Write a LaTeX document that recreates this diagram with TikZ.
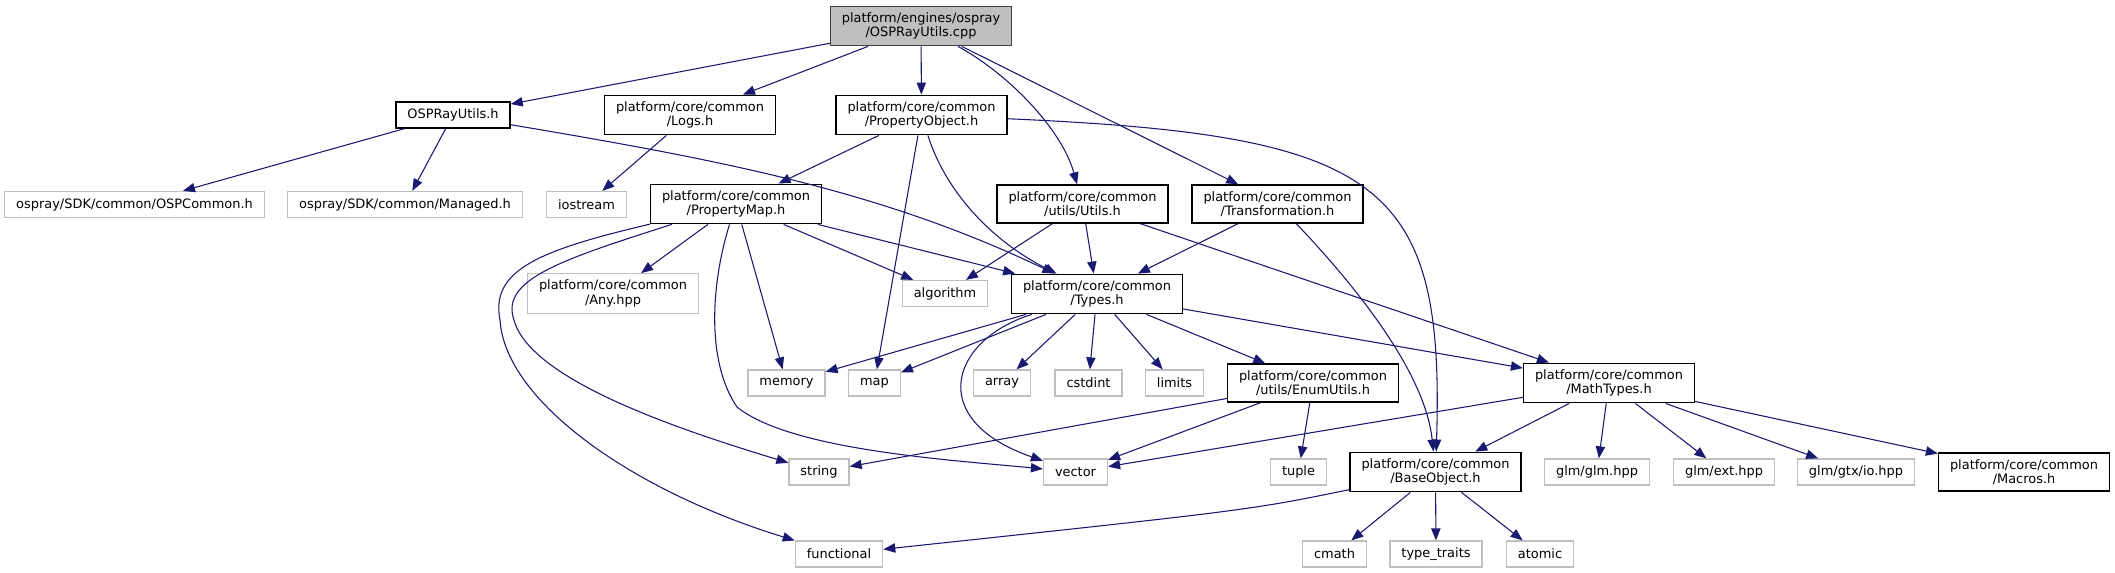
\documentclass[tikz,border=0pt]{standalone}
\usepackage{fontspec}
\setmainfont{DejaVu Sans}
\usetikzlibrary{arrows.meta,calc}
\definecolor{edge}{RGB}{25,25,112}
\definecolor{grey75}{RGB}{191,191,191}
\definecolor{grey25}{RGB}{64,64,64}

\begin{document}
\begin{tikzpicture}[x=0.75pt, y=-0.75pt, font=\fontsize{9.7}{10.7}\selectfont,
  b/.style={draw=black, line width=0.95pt, fill=white, align=center, inner xsep=8.6pt, inner ysep=4.8pt, minimum height=19.5pt},
  g/.style={b, draw=grey75},
  a/.style={draw=edge, line width=0.8pt, -{Triangle[length=9pt, width=7pt]}}]
\useasboundingbox (0,0) rectangle (2115,573);
% top file
\node[b, fill=grey75, draw=grey25] (cpp) at (921,26) {platform/engines/ospray\\/OSPRayUtils.cpp};
% row 1
\node[b] (ospu) at (453,115) {OSPRayUtils.h};
\node[b] (logs) at (690,115) {platform/core/common\\/Logs.h};
\node[b] (pobj) at (921.5,115) {platform/core/common\\/PropertyObject.h};
% row 2
\node[g] (ospc) at (134.5,204.5) {ospray/SDK/common/OSPCommon.h};
\node[g] (mngd) at (405,204.5) {ospray/SDK/common/Managed.h};
\node[g] (ios) at (586.5,204.5) {iostream};
\node[b] (pmap) at (736,204) {platform/core/common\\/PropertyMap.h};
\node[b] (utils) at (1082.5,204) {platform/core/common\\/utils/Utils.h};
\node[b] (trans) at (1277.5,204) {platform/core/common\\/Transformation.h};
% row 3
\node[g] (anyh) at (613,293.5) {platform/core/common\\/Any.hpp};
\node[g] (algo) at (945,293.5) {algorithm};
\node[b] (types) at (1097,294) {platform/core/common\\/Types.h};
% row 4
\node[g] (mem) at (786.5,383) {memory};
\node[g] (map) at (874.5,383) {map};
\node[g] (arr) at (1002,383) {array};
\node[g] (cstd) at (1088.5,383) {cstdint};
\node[g] (lim) at (1174.5,383) {limits};
\node[b] (enum) at (1313,383) {platform/core/common\\/utils/EnumUtils.h};
\node[b] (math) at (1609,383) {platform/core/common\\/MathTypes.h};
% row 5
\node[g] (str) at (819,472) {string};
\node[g] (vec) at (1075.5,472) {vector};
\node[g] (tup) at (1298.5,472) {tuple};
\node[b] (base) at (1435.5,472) {platform/core/common\\/BaseObject.h};
\node[g] (glm) at (1597,472) {glm/glm.hpp};
\node[g] (ext) at (1724,472) {glm/ext.hpp};
\node[g] (io) at (1856,472) {glm/gtx/io.hpp};
\node[b] (macros) at (2024,472) {platform/core/common\\/Macros.h};
% row 6
\node[g] (func) at (839,554) {functional};
\node[g] (cmath) at (1334.5,554) {cmath};
\node[g] (tt) at (1436,554) {type\_traits};
\node[g] (atom) at (1540,554) {atomic};
% includes
\foreach \x/\y in {cpp/ospu,cpp/logs,cpp/pobj,cpp/trans,ospu/ospc,ospu/mngd,logs/ios,
  pobj/pmap,pobj/map,pmap/anyh,pmap/algo,pmap/types,pmap/mem,utils/algo,utils/types,utils/math,
  trans/types,types/mem,types/map,types/arr,types/cstd,types/lim,types/enum,types/math,
  enum/str,enum/vec,enum/tup,math/vec,math/base,math/glm,math/ext,math/io,math/macros,
  base/cmath,base/tt,base/atom} {\draw[a] (\x) -- (\y);}
\draw[a] (cpp) .. controls (1010,75) and (1062,130) .. (utils);
\draw[a] (ospu) .. controls (720,160) and (880,190) .. (types);
\draw[a] (pobj) .. controls (945,190) and (990,240) .. (types);
\draw[a] (pobj) .. controls (1380,135) and (1445,180) .. (base);
\draw[a] (pmap) .. controls (712,280) and (705,360) .. (737,407) .. controls (790,450) and (950,460) .. (vec);
\draw[a] (pmap) .. controls (560,260) and (500,280) .. (514,320) .. controls (530,380) and (680,430) .. (str);
\draw[a] (pmap) .. controls (540,250) and (490,270) .. (500,320) .. controls (505,400) and (630,490) .. (func);
\draw[a] (types) .. controls (950,340) and (925,420) .. (vec);
\draw[a] (trans) .. controls (1350,280) and (1425,370) .. (base);
\draw[a] (base) .. controls (1250,510) .. (func);
\end{tikzpicture}
\end{document}
